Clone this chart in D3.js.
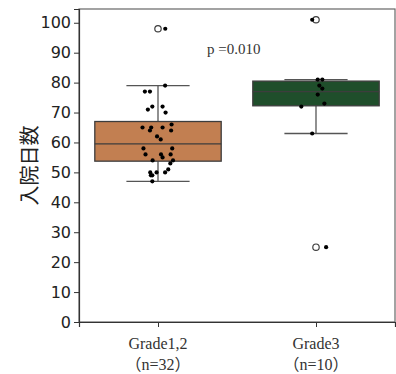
<!DOCTYPE html>
<html>
<head>
<meta charset="utf-8">
<script src="https://d3js.org/d3.v7.min.js"></script>
<style>
  body { margin: 0; background: #fff; }
  .yax text { font-family: "DejaVu Sans", sans-serif; font-size: 16px; fill: #222; }
</style>
</head>
<body>
<div id="chart"></div>
<script>
// groups and their labels
var groups = ["Grade1,2", "Grade3"];
var groupNs = ["（n=32）", "（n=10）"];
var fills = ["#c27f51", "#1f4e2b"];

// days in hospital
var grade12 = [98, 79, 77, 77, 71, 72, 72, 70, 66, 65, 64, 65, 65, 64, 62, 61,
               58, 58, 56, 56, 56, 55, 54, 54, 53, 51, 50, 50, 50, 49, 49, 47];
// horizontal jitter of each point (category units)
var jitter12 = [0.046, 0.045, -0.083, -0.051, -0.064, -0.036, 0.029, 0.048, 0.086,
                -0.098, -0.051, -0.043, 0.029, 0.083, -0.006, 0.017,
                -0.092, 0.090, -0.079, 0.019, 0.080, 0.029, -0.034, 0.095, 0.078,
                0.065, -0.049, -0.009, 0.045, -0.036, -0.045, -0.036];

var grade3 = [101, 81, 81, 79, 78, 76, 73, 72, 63, 25];
var jitter3 = [-0.024, 0.011, 0.040, 0.021, 0.040, 0.011, 0.053, -0.093, -0.024, 0.064];

var yTicks = [0, 10, 20, 30, 40, 50, 60, 70, 80, 90, 100];
var pLabel = "p =0.010";

var W = 396, H = 374;
var svg = d3.select("#chart").append("svg").attr("width", W).attr("height", H);

var x = d3.scaleLinear().domain([-0.5, 1.5]).range([79, 395]);
var y = d3.scaleLinear().domain([0, 104.6]).range([322, 9]);

function stats(vals) {
  var s = vals.slice().sort(d3.ascending);
  var q1 = d3.quantile(s, 0.25), med = d3.quantile(s, 0.5), q3 = d3.quantile(s, 0.75);
  var iqr = q3 - q1;
  var lo = d3.min(s.filter(function(v) { return v >= q1 - 1.5 * iqr; }));
  var hi = d3.max(s.filter(function(v) { return v <= q3 + 1.5 * iqr; }));
  var out = s.filter(function(v) { return v < lo || v > hi; });
  return {q1: q1, med: med, q3: q3, lo: lo, hi: hi, out: out};
}

var data = [grade12, grade3];
var jit = [jitter12, jitter3];
var boxW = 0.8;

data.forEach(function(vals, i) {
  var st = stats(vals);
  var g = svg.append("g");
  // whiskers
  g.append("line").attr("x1", x(i)).attr("x2", x(i)).attr("y1", y(st.q3)).attr("y2", y(st.hi))
    .attr("stroke", "#555").attr("stroke-width", 1.3);
  g.append("line").attr("x1", x(i)).attr("x2", x(i)).attr("y1", y(st.q1)).attr("y2", y(st.lo))
    .attr("stroke", "#555").attr("stroke-width", 1.3);
  [st.hi, st.lo].forEach(function(v) {
    g.append("line").attr("x1", x(i - boxW / 4)).attr("x2", x(i + boxW / 4))
      .attr("y1", y(v)).attr("y2", y(v)).attr("stroke", "#555").attr("stroke-width", 1.3);
  });
  // box
  g.append("rect").attr("x", x(i - boxW / 2)).attr("width", x(boxW) - x(0))
    .attr("y", y(st.q3)).attr("height", y(st.q1) - y(st.q3))
    .attr("fill", fills[i]).attr("stroke", "#3d3d3d").attr("stroke-width", 1.3);
  g.append("line").attr("x1", x(i - boxW / 2)).attr("x2", x(i + boxW / 2))
    .attr("y1", y(st.med)).attr("y2", y(st.med)).attr("stroke", "#3d3d3d").attr("stroke-width", 1.3);
  // fliers
  st.out.forEach(function(v) {
    g.append("circle").attr("cx", x(i)).attr("cy", y(v)).attr("r", 3.2)
      .attr("fill", "#fff").attr("stroke", "#3d3d3d").attr("stroke-width", 1.2);
  });
  // strip points
  vals.forEach(function(v, k) {
    g.append("circle").attr("cx", x(i + jit[i][k])).attr("cy", y(v)).attr("r", 2.1).attr("fill", "#000");
  });
});

// frame
svg.append("rect").attr("x", x(-0.5)).attr("y", y(104.6)).attr("width", x(1.5) - x(-0.5))
  .attr("height", y(0) - y(104.6)).attr("fill", "none").attr("stroke", "#666").attr("stroke-width", 1.2);

var yAxis = svg.append("g").attr("class", "yax").attr("transform", "translate(" + x(-0.5) + ",0)")
  .call(d3.axisLeft(y).tickValues(yTicks).tickSize(5).tickPadding(3));
yAxis.select(".domain").attr("stroke", "#333").attr("stroke-width", 1.2);
yAxis.selectAll(".tick line").attr("stroke", "#333");

var xAxis = svg.append("g").attr("transform", "translate(0," + y(0) + ")")
  .call(d3.axisBottom(x).tickValues([0, 1]).tickSize(5).tickFormat(function() { return ""; }));
xAxis.select(".domain").attr("stroke", "#333").attr("stroke-width", 1.2);
xAxis.selectAll(".tick line").attr("stroke", "#333");

// two-line category labels
groups.forEach(function(name, i) {
  svg.append("text").attr("x", x(i)).attr("y", 349).attr("text-anchor", "middle")
    .style("font-family", "'Liberation Serif', serif").style("font-size", "16px").style("fill", "#333")
    .text(name);
  svg.append("text").attr("x", x(i)).attr("y", 370).attr("text-anchor", "middle")
    .style("font-family", "'Liberation Serif', 'Noto Sans CJK JP', serif").style("font-size", "16px").style("fill", "#333")
    .text(groupNs[i]);
});

// y label
svg.append("text").attr("transform", "translate(37," + ((y(0) + y(104.6)) / 2) + ") rotate(-90)")
  .attr("text-anchor", "middle").style("font-family", "'Noto Sans CJK JP', sans-serif")
  .style("font-size", "20px").style("fill", "#222").text("入院日数");

// p value
svg.append("text").attr("x", 207).attr("y", 54)
  .style("font-family", "'Liberation Serif', serif").style("font-size", "15px").style("fill", "#333")
  .text(pLabel);
</script>
</body>
</html>
